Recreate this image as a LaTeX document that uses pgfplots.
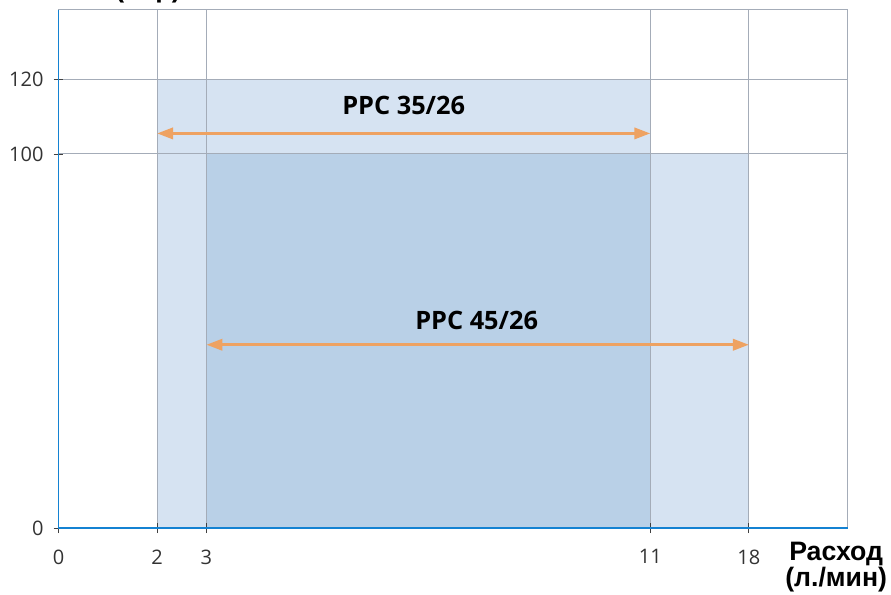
\documentclass[border=0pt]{standalone}
\usepackage{fontspec}
\setmainfont{Open Sans}
\newfontfamily\arialf{Liberation Sans}
\usepackage{pgfplots}
\pgfplotsset{compat=1.18}
\usetikzlibrary{arrows.meta}
\definecolor{lightfill}{RGB}{214,227,242}
\definecolor{darkfill}{RGB}{185,208,231}
\definecolor{gridgray}{RGB}{164,172,184}
\definecolor{axblue}{RGB}{20,130,210}
\definecolor{arrowor}{RGB}{238,162,98}
\begin{document}
\begin{tikzpicture}
\begin{axis}[
  set layers=standard,
  scale only axis, width=591.75pt, height=388.5pt,
  xmin=0, xmax=16, ymin=0, ymax=138.5,
  xtick={0,2,3,12,14}, xticklabels={0,2,3,11,18},
  ytick={0,100,120},
  tick pos=left,
  grid=major, grid style={gridgray, line width=0.75pt},
  axis line style={gridgray, line width=0.75pt},
  tick align=center, major tick length=7.5pt,
  tick style={black!75, line width=0.7pt},
  ticklabel style={font=\fontsize{15}{18}\selectfont, text=black!80},
  xticklabel style={yshift=-9pt},
  yticklabel style={xshift=-4pt},
  /pgf/number format/assume math mode=true,
  clip=false,
]
% PPC 35/26 range: 2..11 l/min, up to 120 bar
\addplot[fill=lightfill, draw=none, on layer=axis background] coordinates {(2,120) (12,120)} \closedcycle;
% PPC 45/26 range: 3..18 l/min, up to 100 bar
\addplot[fill=lightfill, draw=none, on layer=axis background] coordinates {(3,100) (14,100)} \closedcycle;
% overlap
\addplot[fill=darkfill, draw=none, on layer=axis background] coordinates {(3,100) (12,100)} \closedcycle;

\addplot[arrowor, line width=2pt, {Triangle[length=12pt,width=8.5pt]}-{Triangle[length=12pt,width=8.5pt]}] coordinates {(2,105.5) (12,105.5)};
\addplot[arrowor, line width=2pt, {Triangle[length=12pt,width=8.5pt]}-{Triangle[length=12pt,width=8.5pt]}] coordinates {(3,49) (14,49)};

\node[anchor=base, font=\bfseries\fontsize{19}{22}\selectfont] at (axis cs:7.0,110.6) {PPC 35/26};
\node[anchor=base, font=\bfseries\fontsize{19}{22}\selectfont] at (axis cs:8.48,53.1) {PPC 45/26};

\draw[axblue, line width=1.4pt] (rel axis cs:0,1) -- (rel axis cs:0,0) -- (rel axis cs:1,0);

\node[anchor=north, align=center, font=\arialf\bfseries\fontsize{20}{17}\selectfont, inner sep=0pt] at (axis cs:15.77,-3.82) {Расход\\(л./мин)};
\node[anchor=base, font=\arialf\bfseries\fontsize{20}{24}\selectfont, inner sep=0pt] at ([yshift=9.5pt]rel axis cs:0.1134,1) {(бар)};

\coordinate (sw) at (rel axis cs:0,0);
\coordinate (ne) at (rel axis cs:1,1);
\end{axis}
\pgfresetboundingbox
\path[use as bounding box] ([xshift=-43.875pt,yshift=-49.5pt]sw) rectangle ([xshift=32.625pt,yshift=7.5pt]ne);
\end{tikzpicture}
\end{document}
